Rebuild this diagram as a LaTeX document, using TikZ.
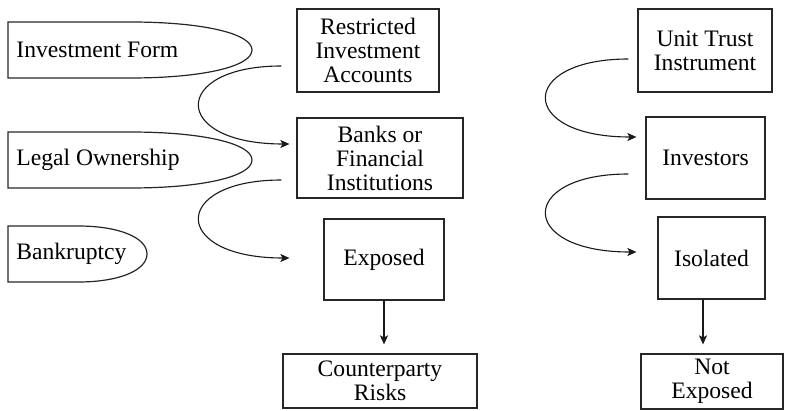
\documentclass[tikz,border=0pt]{standalone}
\usepackage{fontspec}
\setmainfont{Liberation Serif}
\usetikzlibrary{arrows.meta}

\tikzset{
    caja/.style={draw=black!85, line width=0.6pt, align=center, inner sep=1pt},
    lengua/.style={draw=black!85, line width=0.6pt},
    flecha/.style={draw=black!90, line width=0.55pt, -{Stealth[length=4.5pt,width=4pt,inset=1pt]}}
}

\begin{document}
\begin{tikzpicture}[x=0.5pt, y=-0.5pt, font=\fontsize{11.8}{12}\selectfont]
    \useasboundingbox (0,0) rectangle (785,411);

    % Formas de la izquierda: borde recto y punta redondeada
    \foreach \nombre/\texto/\c/\r/\a/\k in {form/Investment Form/50/252/130/205,
                                            own/Legal Ownership/160/252/130/205,
                                            bank/Bankruptcy/254/147/78/120} {
        \draw[lengua] (8,\c-28) -- (\a,\c-28) .. controls (\k,\c-28) and (\r,\c-16) .. (\r,\c)
                      .. controls (\r,\c+16) and (\k,\c+28) .. (\a,\c+28) -- (8,\c+28) -- cycle;
        \node[anchor=west, inner sep=2pt] (\nombre) at (12,\c) {\texto};
    }

    % Cajas de las dos columnas
    \foreach \nombre/\texto/\px/\py/\ancho/\alto in {
            ria/Restricted\\Investment\\Accounts/368/50.5/71/41.5,
            banks/Banks or\\Financial\\Institutions/380/158/83/40,
            exposed/Exposed/384/259.5/60/40.5,
            counter/Counterparty\\Risks/380/381/97/27,
            unit/Unit Trust\\Instrument/705/50.5/67/41.5,
            investors/Investors/705.5/158/59.5/41,
            isolated/Isolated/711.5/258/53.5/41,
            notexp/Not\\Exposed/712/381.5/71/27.5}
        \node[caja, minimum width=\ancho pt, minimum height=\alto pt] (\nombre) at (\px,\py) {\texto};

    % Flechas curvas de una caja a la siguiente
    \foreach \de/\a/\sx/\sy/\ex/\ey in {ria/banks/-15/15.5/-7/-14,
                                        banks/exposed/-15/22/-34/-1.5,
                                        unit/investors/-9/8.5/-9/-21,
                                        investors/isolated/-17/16/-21/-6}
        \draw[flecha] ([shift={(\sx,\sy)}]\de.west) .. controls +(-111,0) and +(-119,0) .. ([shift={(\ex,\ey)}]\a.west);

    % Flechas rectas hacia abajo
    \draw[flecha, shorten >=4.5pt] (exposed.south) -- (exposed.south |- counter.north);
    \draw[flecha, shorten >=4.5pt] ([shift={(-8.5,0)}]isolated.south) -- ([shift={(-8.5,0)}]isolated.south |- notexp.north);
\end{tikzpicture}
\end{document}
